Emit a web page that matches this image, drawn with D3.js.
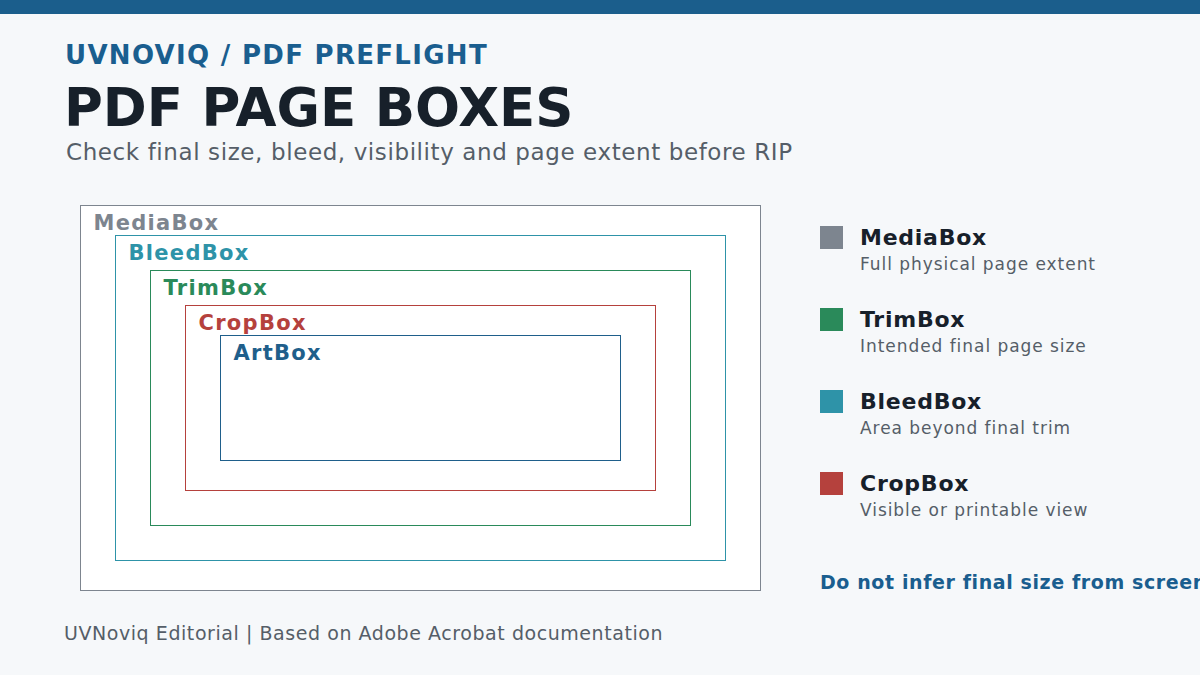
<!DOCTYPE html><html><head><meta charset="utf-8">
<script src="https://cdn.jsdelivr.net/npm/d3@7"></script>
<style>body{margin:0;background:#f6f8fa}svg{display:block;font-family:"DejaVu Sans",sans-serif}</style></head><body>
<svg id="c" width="1200" height="675"></svg>
<script>
const boxNames=["MediaBox","BleedBox","TrimBox","CropBox","ArtBox"];
const boxX0=[0,35,70,105,140], boxX1=[680,645,610,575,540];
const boxY0=[0,30,65,100,130], boxY1=[385,355,320,285,255];
const boxColors=["#7d858f","#2e93a8","#2a8a5a","#b5413d","#1f5f8b"];
const legendNames=["MediaBox","TrimBox","BleedBox","CropBox"];
const legendDesc=["Full physical page extent","Intended final page size","Area beyond final trim","Visible or printable view"];
const legendColors=["#7d858f","#2a8a5a","#2e93a8","#b5413d"];
const svg=d3.select("#c");
svg.append("rect").attr("width",1200).attr("height",675).attr("fill","#f6f8fa");
svg.append("rect").attr("width",1200).attr("height",14).attr("fill","#1b5e8c");
svg.append("text").attr("x",65).attr("y",64).attr("font-size",26).attr("font-weight","bold").attr("letter-spacing",1.3).attr("fill","#1a5e8f").text("UVNOVIQ / PDF PREFLIGHT");
svg.append("text").attr("x",64).attr("y",126).attr("font-size",53).attr("font-weight","bold").attr("fill","#17202a").text("PDF PAGE BOXES");
svg.append("text").attr("x",66).attr("y",160).attr("font-size",23).attr("letter-spacing",0.6).attr("fill","#555e68").text("Check final size, bleed, visibility and page extent before RIP");
const x=d3.scaleLinear().domain([0,680]).range([80.5,760.5]);
const y=d3.scaleLinear().domain([0,385]).range([205.5,590.5]);
const g=svg.append("g");
boxNames.forEach((n,i)=>{
  g.append("rect").attr("x",x(boxX0[i])).attr("y",y(boxY0[i])).attr("width",x(boxX1[i])-x(boxX0[i])).attr("height",y(boxY1[i])-y(boxY0[i]))
   .attr("fill",i==0?"#fff":"none").attr("stroke",boxColors[i]).attr("stroke-width",1);
  g.append("text").attr("x",x(boxX0[i])+13).attr("y",y(boxY0[i])+24).attr("font-size",21).attr("font-weight","bold").attr("letter-spacing",1.3).attr("fill",boxColors[i]).text(n);
});
const ly=d3.scaleLinear().domain([0,1]).range([226,308]);
legendNames.forEach((n,i)=>{
  svg.append("rect").attr("x",820).attr("y",ly(i)).attr("width",23).attr("height",23).attr("fill",legendColors[i]);
  svg.append("text").attr("x",860).attr("y",ly(i)+19).attr("font-size",22).attr("font-weight","bold").attr("letter-spacing",0.75).attr("fill","#17202a").text(n);
  svg.append("text").attr("x",860).attr("y",ly(i)+44).attr("font-size",17).attr("letter-spacing",0.95).attr("fill","#555e68").text(legendDesc[i]);
});
svg.append("text").attr("x",820).attr("y",589).attr("font-size",19).attr("font-weight","bold").attr("letter-spacing",0.6).attr("fill","#1a5e8f").text("Do not infer final size from screen view");
svg.append("text").attr("x",64).attr("y",640).attr("font-size",19).attr("letter-spacing",0.56).attr("fill","#555e68").text("UVNoviq Editorial | Based on Adobe Acrobat documentation");
</script></body></html>
